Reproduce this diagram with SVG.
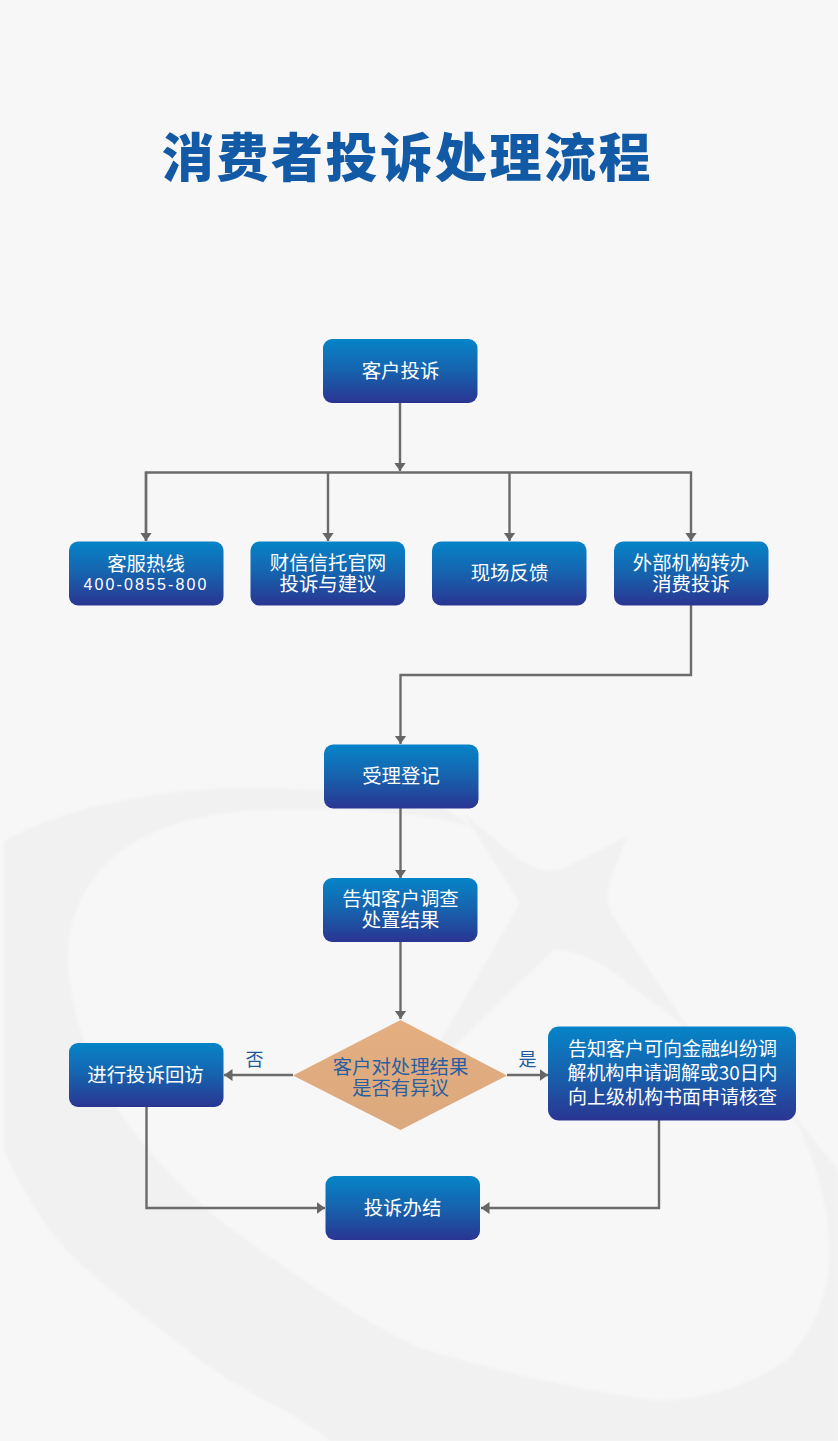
<svg xmlns="http://www.w3.org/2000/svg" width="838" height="1441" viewBox="0 0 838 1441">
<style>
.n{font-family:"Noto Sans CJK SC","Liberation Sans",sans-serif;font-size:19.4px;font-weight:400;fill:#fff;text-anchor:middle}
.m{font-size:19px}
.d{font-family:"Noto Sans CJK SC","Liberation Sans",sans-serif;font-size:19.4px;font-weight:400;fill:#2a5f9f;text-anchor:middle}
.l{font-family:"Noto Sans CJK SC",sans-serif;font-size:18px;font-weight:400;fill:#1f5a9c;text-anchor:middle}
.c{fill:none;stroke:#6b6b6b;stroke-width:2.4}
.b{fill:url(#g);stroke:none}
</style>
<defs>
<linearGradient id="g" x1="0" y1="0" x2="0" y2="1"><stop offset="0" stop-color="#0684c8"/><stop offset="0.5" stop-color="#1762ad"/><stop offset="1" stop-color="#2a3592"/></linearGradient>
<linearGradient id="o" x1="0" y1="0" x2="0" y2="1"><stop offset="0" stop-color="#e4ae80"/><stop offset="1" stop-color="#dba97e"/></linearGradient>
<filter id="s" x="-5%" y="-5%" width="110%" height="110%"><feGaussianBlur stdDeviation="1.5"/></filter>
<marker id="a" markerUnits="userSpaceOnUse" markerWidth="11" markerHeight="13" refX="8.500" refY="6" orient="auto"><path d="M0 0L8.500 6L0 12Z" fill="#666"/></marker>
</defs>
<rect width="838" height="1441" fill="#f7f7f8"/>
<g id="watermark" fill="#f1f1f2" filter="url(#s)">
<path d="M4 842C50 812 150 788 250 788C320 788 390 795 445 808L470 826C430 815 370 808 300 809C220 808 160 822 120 852C85 880 68 915 68 960C70 1010 90 1070 118 1110C150 1155 190 1200 240 1235C300 1280 370 1325 420 1348C500 1372 590 1392 653 1400C700 1402 750 1385 787 1360C815 1330 830 1290 830 1250C830 1210 815 1160 797 1123L782 1100L838 1170V1441H330L320 1433C280 1405 240 1390 200 1360C150 1320 100 1285 67 1250C40 1222 20 1185 4 1150Z"/>
<path d="M463 813L520 860Q545 877 565 868L627 836L610 880Q604 897 612 915L690 1030L630 985Q590 950 553 950L415 1085L520 903Z"/>
</g>
<g id="title"><text x="407.500" y="177" font-family="'Noto Sans CJK SC',sans-serif" font-weight="900" font-size="52" letter-spacing="2.600" fill="#125aa5" text-anchor="middle">消费者投诉处理流程</text></g>
<g id="connectors">
<path class="c" d="M400 403V471" marker-end="url(#a)"/>
<path class="c" d="M146 541V472.500H691V541" marker-end="url(#a)"/>
<path class="c" d="M146 472V541" marker-end="url(#a)"/>
<path class="c" d="M328 472V541" marker-end="url(#a)"/>
<path class="c" d="M509.500 472V541" marker-end="url(#a)"/>
<path class="c" d="M691 605V675H400.500V744" marker-end="url(#a)"/>
<path class="c" d="M400.500 808V878" marker-end="url(#a)"/>
<path class="c" d="M400.500 942V1019" marker-end="url(#a)"/>
<path class="c" d="M293 1075H224" marker-end="url(#a)"/>
<path class="c" d="M507 1075H548" marker-end="url(#a)"/>
<path class="c" d="M146.500 1106V1208H325" marker-end="url(#a)"/>
<path class="c" d="M659 1120V1208H481" marker-end="url(#a)"/>
</g>
<g id="n1"><rect class="b" x="323" y="339" width="154.500" height="64" rx="9"/><text class="n" x="400.500" y="378">客户投诉</text></g>
<g id="n2"><rect class="b" x="69" y="541.500" width="154.500" height="64" rx="9"/><text class="n" x="146" y="571">客服热线<tspan x="146" dy="19" font-family="'Liberation Sans',sans-serif" font-size="16" font-weight="400" letter-spacing="2.100">400-0855-800</tspan></text></g>
<g id="n3"><rect class="b" x="250.500" y="541.500" width="154.500" height="64" rx="9"/><text class="n" x="328" y="570">财信信托官网<tspan x="328" dy="21">投诉与建议</tspan></text></g>
<g id="n4"><rect class="b" x="432" y="541.500" width="154.500" height="64" rx="9"/><text class="n" x="509.500" y="580">现场反馈</text></g>
<g id="n5"><rect class="b" x="614" y="541.500" width="154.500" height="64" rx="9"/><text class="n" x="691" y="570">外部机构转办<tspan x="691" dy="21">消费投诉</tspan></text></g>
<g id="n6"><rect class="b" x="324" y="744.500" width="154.500" height="64" rx="9"/><text class="n" x="401" y="783">受理登记</text></g>
<g id="n7"><rect class="b" x="323" y="878" width="154.500" height="64" rx="9"/><text class="n" x="400.500" y="906">告知客户调查<tspan x="400.500" dy="21">处置结果</tspan></text></g>
<g id="n8"><path d="M400.500 1020L507 1075.500L400.500 1130L293 1075.500Z" fill="url(#o)"/><text class="d" x="400.500" y="1074">客户对处理结果<tspan x="400.500" dy="21">是否有异议</tspan></text></g>
<g id="n9"><rect class="b" x="69" y="1043" width="154.500" height="64" rx="9"/><text class="n" x="145.500" y="1082">进行投诉回访</text></g>
<g id="n10"><rect class="b" x="548" y="1026.500" width="248" height="94" rx="11"/><text class="n m" x="672.500" y="1056">告知客户可向金融纠纷调<tspan x="672.500" dy="24" letter-spacing="-0.100">解机构申请调解或30日内</tspan><tspan x="672.500" dy="24">向上级机构书面申请核查</tspan></text></g>
<g id="n11"><rect class="b" x="325.500" y="1176" width="154.500" height="64" rx="9"/><text class="n" x="402.500" y="1215">投诉办结</text></g>
<text class="l" x="254.500" y="1066">否</text>
<text class="l" x="527.500" y="1066">是</text>
</svg>
